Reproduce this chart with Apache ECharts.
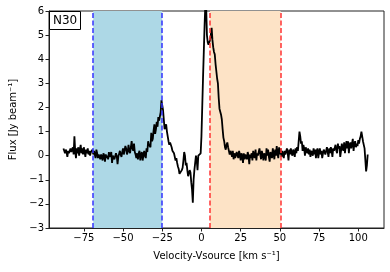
<!DOCTYPE html>
<html><head><meta charset="utf-8">
<script src="https://cdn.jsdelivr.net/npm/echarts@6/dist/echarts.min.js"></script>
<style>html,body{margin:0;padding:0;background:#fff}#c{width:390px;height:272px}</style>
</head><body><div id="c"></div>
<script>
const velocityStart = -88;
const velocityStep = 0.5;
const flux = [
 0.3,0.2,0.1,0.25,0.15,-0.05,0.2,0.1,0.05,0.3, 0.15,0.2,0.35,0.05,0.8,0.2,-0.1,0.3,0.1,0.35,
 0.0,0.25,0.45,0.1,0.3,0.05,0.35,0.15,-0.05,0.25, 0.1,0.3,0.05,0.2,0.0,0.15,0.1,0.25,0.05,0.2,
 0.05,-0.1,0.25,0.1,-0.1,0.05,0.1,-0.15,0.05,-0.05, -0.2,0.1,0.0,-0.25,0.05,-0.1,0.0,-0.15,0.15,-0.05,
 -0.1,0.15,-0.3,0.0,0.05,-0.15,-0.1,0.1,0.0,-0.35, -0.05,0.0,0.2,0.05,-0.05,0.15,0.3,0.05,0.1,0.4,
 0.3,0.05,0.15,0.45,0.2,0.1,0.35,0.6,0.3,0.2, 0.5,0.15,0.05,-0.1,0.1,-0.15,0.1,0.2,-0.2,0.05,
 0.15,-0.2,0.0,0.2,0.0,-0.1,0.3,0.15,0.6,0.45, 0.5,0.35,0.95,0.6,0.7,1.05,1.3,0.9,1.1,1.4,
 1.2,1.6,1.45,1.5,1.8,2.3,2.1,1.9,1.5,1.1, 1.2,1.3,1.0,0.8,0.6,0.45,0.55,0.5,0.35,0.2,
 0.2,0.1,0.05,-0.2,-0.1,-0.3,-0.45,-0.55,-0.75,-0.8, -0.7,-0.6,-0.5,-0.2,0.15,0.0,-0.4,-0.3,-0.6,-0.85,
 -0.85,-0.6,-0.7,-1.1,-1.4,-1.95,-1.0,-0.6,-0.3,0.0, -0.2,-0.6,0.0,0.05,0.0,0.1,0.8,2.0,3.2,4.3,
 5.4,6.3,6.2,5.0,4.7,4.6,4.7,4.8,5.0,5.3, 4.8,4.5,4.3,4.2,3.8,3.5,3.2,3.0,2.4,1.95,
 1.9,1.7,1.5,1.1,0.75,0.6,0.35,0.25,0.45,0.55, 0.35,0.2,0.05,0.2,0.1,-0.05,0.2,-0.15,0.1,-0.1,
 -0.1,0.15,0.0,-0.1,0.2,0.05,-0.2,0.1,0.0,-0.3, 0.1,-0.15,0.05,-0.05,-0.15,0.15,0.0,-0.35,0.05,-0.1,
 0.1,-0.2,0.2,0.0,-0.1,0.25,-0.2,0.1,0.0,-0.05, 0.3,0.05,-0.15,0.2,0.05,-0.2,0.1,0.0,-0.2,0.3,
 0.0,0.25,-0.05,-0.25,0.15,0.1,-0.1,0.3,0.05,-0.15, 0.25,0.0,0.4,0.1,-0.1,0.35,0.05,0.3,-0.05,0.2,
 0.25,-0.1,0.2,0.05,0.0,0.3,0.1,-0.2,0.25,0.05, 0.3,0.1,0.0,0.25,0.15,-0.05,0.3,0.1,0.35,0.2,
 0.6,1.0,0.8,0.5,0.6,0.2,0.45,0.3,0.0,0.35, 0.2,0.1,0.3,0.05,0.25,-0.05,0.2,0.15,0.0,0.3,
 0.05,0.25,-0.1,0.2,0.3,-0.1,0.15,0.3,0.05,0.2, -0.1,0.1,0.25,0.3,0.05,0.2,0.35,0.15,-0.05,0.3,
 0.1,0.35,0.2,-0.05,0.3,0.2,0.15,0.45,0.2,0.1, 0.5,0.3,0.4,-0.05,0.2,0.5,0.3,0.2,0.55,0.1,
 0.4,0.6,0.3,0.6,0.1,0.45,0.55,0.3,0.5,0.7, 0.2,0.5,0.6,0.35,0.5,0.4,0.65,0.5,0.7,0.8,
 1.0,0.8,0.6,0.45,0.3,0.35,-0.65,-0.4,0.05
];
const blueRange = [-69, -25];
const orangeRange = [5.5, 50.5];
const xTicks = [-75, -50, -25, 0, 25, 50, 75, 100];
const label = 'N30';

const data = flux.map((f, i) => [velocityStart + i * velocityStep, f]);
const fmt = v => String(v).replace('-', '\u2212');
const font = 'DejaVu Sans';

const chart = echarts.init(document.getElementById('c'), null, {renderer: 'canvas'});
chart.setOption({
  animation: false,
  backgroundColor: '#fff',
  title: {
    text: label, left: 49, top: 11,
    borderColor: '#000', borderWidth: 1, backgroundColor: '#fff',
    padding: [4, 4, 3, 4],
    textStyle: {fontFamily: font, fontSize: 12, fontWeight: 'normal', color: '#000'}
  },
  grid: {left: 49, right: 6, top: 11, bottom: 44, show: true, borderColor: '#222', borderWidth: 1, backgroundColor: 'transparent'},
  xAxis: {
    type: 'value', min: -97.2, max: 116.4,
    name: 'Velocity-Vsource [km s\u207B\u00B9]', nameLocation: 'middle', nameGap: 23,
    nameTextStyle: {fontFamily: font, fontSize: 10, color: '#000'},
    axisLine: {show: true, onZero: false, lineStyle: {color: '#222'}},
    axisTick: {show: true, length: 3.5, customValues: xTicks, lineStyle: {color: '#222'}},
    axisLabel: {customValues: xTicks, formatter: fmt, fontFamily: font, fontSize: 10, color: '#000', margin: 5},
    splitLine: {show: false}
  },
  yAxis: {
    type: 'value', min: -3, max: 6, interval: 1,
    name: 'Flux [Jy beam\u207B\u00B9]', nameLocation: 'middle', nameGap: 30,
    nameTextStyle: {fontFamily: font, fontSize: 10, color: '#000'},
    axisLine: {show: true, onZero: false, lineStyle: {color: '#222'}},
    axisTick: {show: true, length: 3.5, lineStyle: {color: '#222'}},
    axisLabel: {formatter: fmt, fontFamily: font, fontSize: 10, color: '#000', margin: 5},
    splitLine: {show: false}
  },
  series: [{
    type: 'line', data: data, symbol: 'none', clip: true,
    lineStyle: {color: '#000', width: 1.8},
    markArea: {
      silent: true,
      data: [
        [{xAxis: blueRange[0], itemStyle: {color: '#add8e6'}}, {xAxis: blueRange[1]}],
        [{xAxis: orangeRange[0], itemStyle: {color: '#fde3c6'}}, {xAxis: orangeRange[1]}]
      ]
    },
    markLine: {
      silent: true, symbol: 'none', label: {show: false},
      data: [
        {xAxis: blueRange[0], lineStyle: {color: '#3333ff', type: [5, 2.5], width: 1.5}},
        {xAxis: blueRange[1], lineStyle: {color: '#3333ff', type: [5, 2.5], width: 1.5}},
        {xAxis: orangeRange[0], lineStyle: {color: '#ff3333', type: [5, 2.5], width: 1.5}},
        {xAxis: orangeRange[1], lineStyle: {color: '#ff3333', type: [5, 2.5], width: 1.5}}
      ]
    }
  }]
});
</script></body></html>
